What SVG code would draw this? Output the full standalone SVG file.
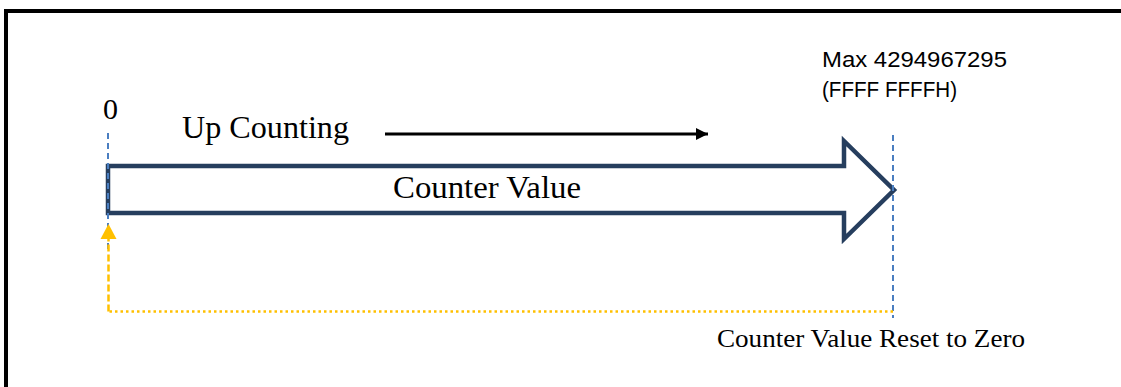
<svg xmlns="http://www.w3.org/2000/svg" width="1121" height="387" viewBox="0 0 1121 387">
<style>
.serif{font-family:"Liberation Serif","DejaVu Serif",serif;fill:#000}
.sans{font-family:"Liberation Sans","DejaVu Sans",sans-serif;fill:#000}
.guide{stroke:#4A7EC0;stroke-width:2;stroke-dasharray:6 4;fill:none}
</style>
<defs>
<marker id="blk" viewBox="0 0 10 10" refX="10" refY="5" markerWidth="5" markerHeight="4" markerUnits="strokeWidth" orient="auto">
<path d="M0,0 L10,5 L0,10 z" fill="#000"/>
</marker>
</defs>
<rect width="1121" height="387" fill="#fff"/>
<path d="M6,387 V11 H1121" fill="none" stroke="#000" stroke-width="4"/>
<g id="counter-arrow">
<path d="M108,166 H844 V141 L894,190 L844,239 V213 H108 Z" fill="#fff" stroke="#263E5E" stroke-width="4.5" stroke-linejoin="miter"/>
<text class="serif" x="393" y="198" font-size="31" textLength="188" lengthAdjust="spacingAndGlyphs">Counter Value</text>
</g>
<g id="guides">
<line class="guide" x1="108" y1="133" x2="108" y2="250"/>
<line class="guide" x1="893" y1="135" x2="893" y2="318"/>
</g>
<g id="connectors">
<line x1="385" y1="134" x2="708" y2="134" stroke="#000" stroke-width="3" marker-end="url(#blk)"/>
<path d="M893,311.5 H108.5" fill="none" stroke="#FFC000" stroke-width="2.5" stroke-dasharray="2.5 3"/>
<path d="M108.5,311.5 V238" fill="none" stroke="#FFC000" stroke-width="2.5" stroke-dasharray="7 3"/>
<path d="M100.5,239 L108.5,224 L116.5,239 Z" fill="#FFC000"/>
</g>
<g id="labels">
<text class="serif" x="103" y="119" font-size="30">0</text>
<text class="serif" x="182" y="138" font-size="32" textLength="167" lengthAdjust="spacingAndGlyphs">Up Counting</text>
<text class="sans" x="822" y="67" font-size="22" textLength="185" lengthAdjust="spacingAndGlyphs">Max 4294967295</text>
<text class="sans" x="822" y="97" font-size="22" textLength="135" lengthAdjust="spacingAndGlyphs">(FFFF FFFFH)</text>
<text class="serif" x="717" y="347" font-size="26" textLength="308" lengthAdjust="spacingAndGlyphs">Counter Value Reset to Zero</text>
</g>
</svg>
